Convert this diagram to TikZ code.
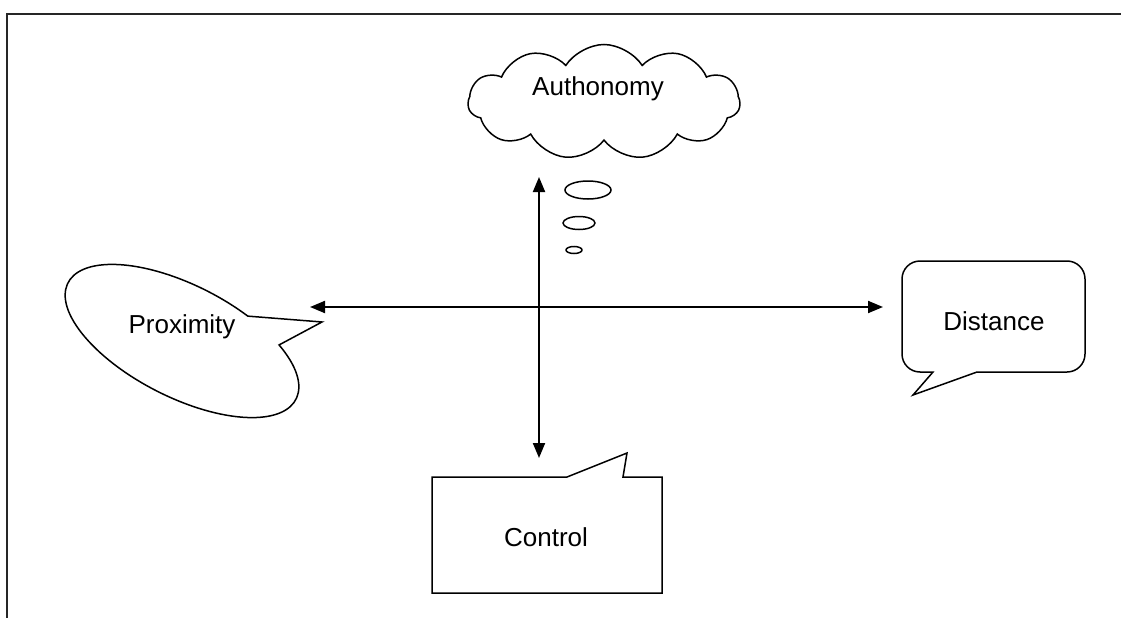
\documentclass[tikz,border=0pt]{standalone}
\usepackage{fontspec}
\setmainfont{Liberation Sans}
\usetikzlibrary{arrows.meta,shapes.symbols}
\begin{document}
\begin{tikzpicture}[x=1pt,y=-1pt,
  shapeline/.style={draw=black,line width=1.5pt,line join=miter},
  lbl/.style={font=\fontsize{26}{31}\selectfont,inner sep=0pt,anchor=base},
  twoway/.style={line width=2pt,{Triangle[length=15pt,width=12pt]}-{Triangle[length=15pt,width=12pt]}},
  frameline/.style={line width=2.2pt,draw=black!85}]
\useasboundingbox (0,0) rectangle (1121,618);
% frame (top and left edges only visible)
\coordinate (fbl) at (7,618);
\coordinate (ftl) at (7,14);
\coordinate (ftr) at (1121,14);
\draw[frameline] (fbl) -- (ftl) -- (ftr);

% cloud
\node[cloud,shapeline,cloud puffs=11,cloud puff arc=115,minimum width=272pt,minimum height=115pt,aspect=2.4] (cloud) at (604,102) {};
\node[lbl] (autht) at (598,95) {Authonomy};
% thought bubbles
\draw[shapeline] (588,190) ellipse[x radius=23, y radius=9];
\draw[shapeline] (579,223) ellipse[x radius=16, y radius=6.5];
\draw[shapeline] (574,250) ellipse[x radius=8, y radius=3.5];

% Proximity ellipse callout
\begin{scope}[shift={(182,341)},rotate=-27]
  \draw[shapeline] (-46.4:128 and 56) arc[start angle=-46.4,end angle=291.7,x radius=128,y radius=56] -- (116.1,-80.5) -- cycle;
\end{scope}
\node[lbl] (proxt) at (182,333) {Proximity};

% Distance rounded callout
\draw[shapeline] (977,372) -- (1067,372) arc[start angle=90,end angle=0,radius=18]
  -- (1085,279) arc[start angle=0,end angle=-90,radius=18]
  -- (920,261) arc[start angle=-90,end angle=-180,radius=18]
  -- (902,354) arc[start angle=180,end angle=90,radius=18]
  -- (933,372) -- (913,395) -- cycle;
\node[lbl] (distt) at (994,330) {Distance};

% Control rectangular callout
\draw[shapeline] (432,477) -- (567,477) -- (627,453) -- (623,477) -- (662,477) -- (662,593) -- (432,593) -- cycle;
\node[lbl] (contt) at (546,546) {Control};

% axes
\coordinate (hl) at (310,307);
\coordinate (hr) at (883,307);
\coordinate (vt) at (539,177);
\coordinate (vb) at (539,458);
\draw[twoway] (hl) -- (hr);
\draw[twoway] (vt) -- (vb);
\end{tikzpicture}
\end{document}
